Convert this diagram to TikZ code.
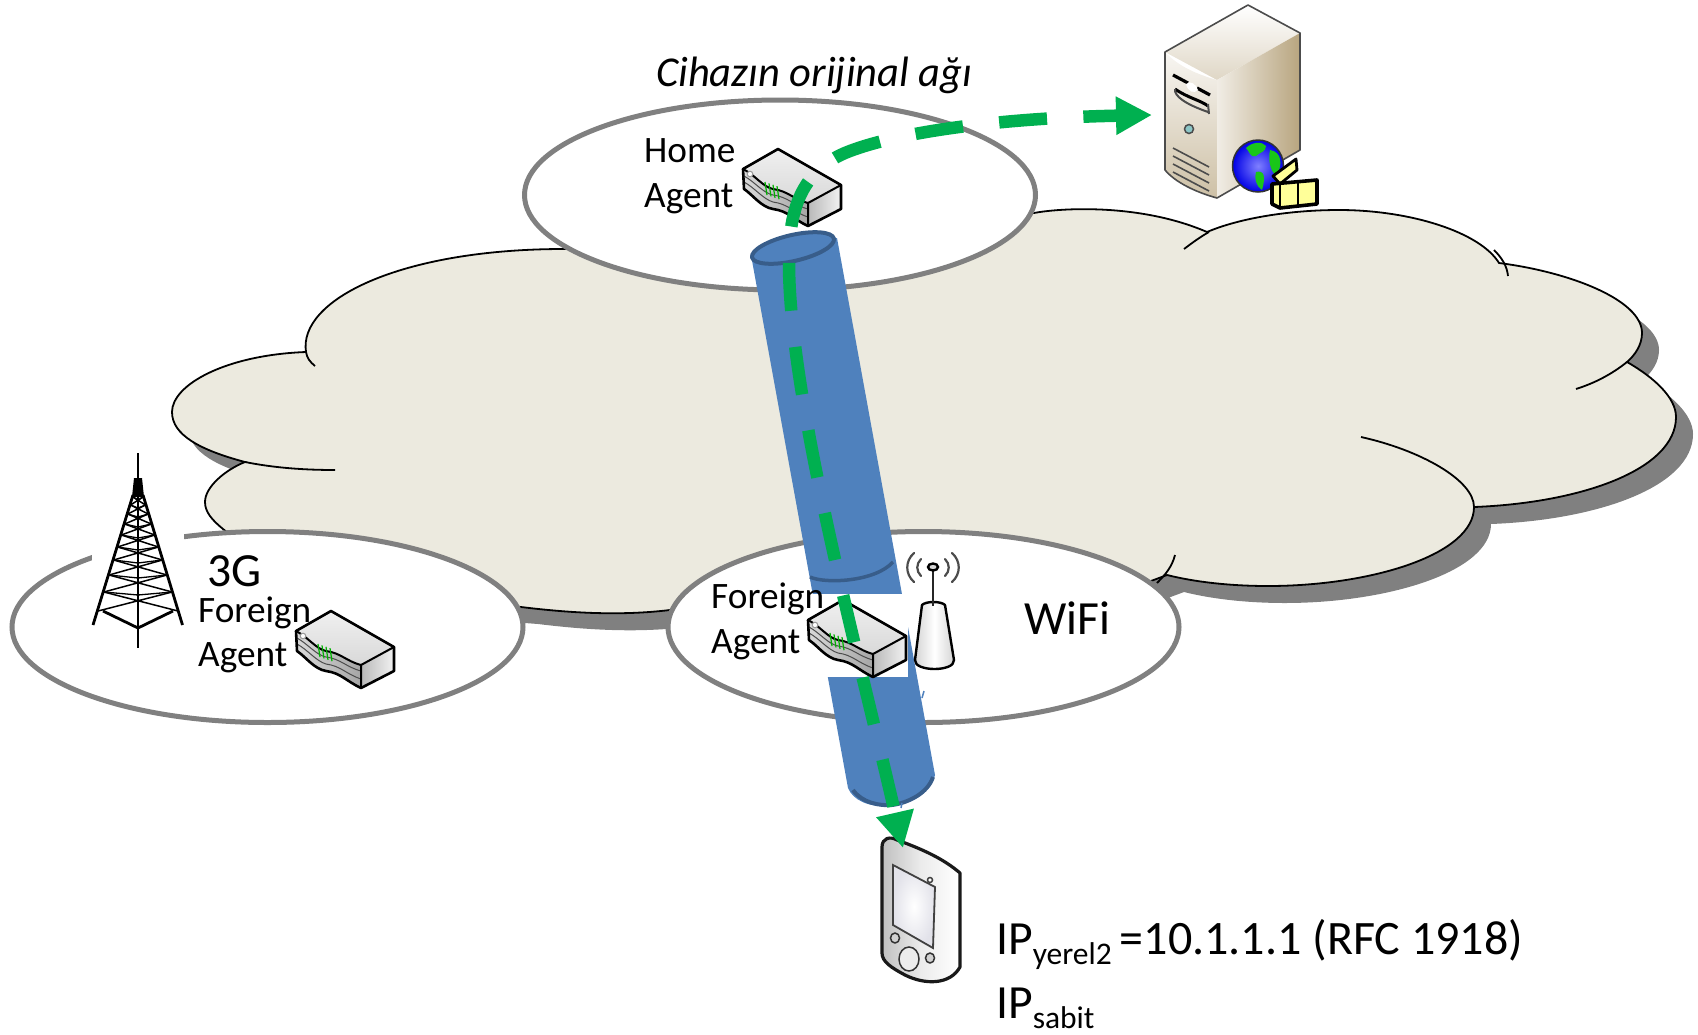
\documentclass[tikz,border=0pt]{standalone}
\usepackage{fontspec}
\setmainfont{Carlito}
\usetikzlibrary{arrows.meta,shapes.geometric,calc}
\definecolor{cloudfill}{HTML}{ECEADF}
\definecolor{zonegray}{HTML}{808080}
\definecolor{tubeblue}{HTML}{4F81BD}
\definecolor{tubedark}{HTML}{385D8A}
\definecolor{flowgreen}{HTML}{00B050}
\definecolor{servtan}{HTML}{B8A57F}
\definecolor{boxyellow}{HTML}{FFFF99}
\tikzset{
 zone/.style={ellipse,draw=zonegray,fill=white,line width=5pt,inner sep=0pt,outer sep=0pt},
 label36/.style={anchor=base west,inner sep=0pt,font=\fontsize{37.3}{37}\selectfont},
 label46/.style={anchor=base west,inner sep=0pt,font=\fontsize{47.6}{47}\selectfont},
 cloudline/.style={draw=black,line width=1.8pt},
 flow/.style={draw=flowgreen,line width=12.5pt,dash pattern=on 48pt off 36.4pt,dash phase=75.4pt,
   {Triangle[length=36pt,width=36pt]}-{Triangle[length=36pt,width=36pt]}},
 routerpic/.pic={
  \shade[top color=gray!12,bottom color=gray!30] (0,20)--(35,0)--(98,36)--(65,54)..controls(50,50)and(45,42)..(30,40)..controls(20,38)and(12,26)..(0,20)--cycle;
  \shade[left color=gray!30,right color=gray!70] (0,20)..controls(12,26)and(20,38)..(30,40)..controls(45,42)and(50,50)..(65,54)--(65,77)..controls(50,70)and(45,62)..(30,60)..controls(18,58)and(10,46)..(1,40)--cycle;
  \shade[left color=gray!55,right color=gray!10] (65,54)--(98,36)--(98,60)--(65,77)--cycle;
  \draw[black!70,line width=1pt] (1,27)..controls(12,33)and(20,44)..(30,46)..controls(45,48)and(50,56)..(65,60);
  \draw[black!70,line width=1pt] (1,33)..controls(12,39)and(20,50)..(30,53)..controls(45,55)and(50,63)..(65,68);
  \draw[black,line width=2.6pt,line join=round] (0,20)--(35,0)--(98,36)--(98,60)--(65,77)..controls(50,70)and(45,62)..(30,60)..controls(18,58)and(10,46)..(1,40)--cycle;
  \draw[black,line width=2pt,line join=round] (0,20)..controls(12,26)and(20,38)..(30,40)..controls(45,42)and(50,50)..(65,54)--(98,36) (65,54)--(65,77);
  \draw[gray!80,fill=white,line width=1pt] (7,25) circle (2.8);
  \foreach \k in {0,4,8,12}{\draw[green!70!black,line width=1.2pt] ({22+\k},{33+0.35*\k})--({24+\k},{46+0.35*\k});}
 },
 antennawave/.style={draw=black!70,line width=2.2pt,line cap=round},
}
\begin{document}
\begin{tikzpicture}[x=1pt,y=-1pt]
\useasboundingbox (0,0) rectangle (1698,1034);
\def\cloudoutline{(245,462) .. controls (200,450) and (172,435) .. (172,412)
 .. controls (172,385) and (225,355) .. (306,352)
 .. controls (298,300) and (400,249) .. (564,249)
 -- (1034,213)
 .. controls (1060,208) and (1140,203) .. (1207,232)
 .. controls (1240,218) and (1290,210) .. (1339,210)
 .. controls (1410,210) and (1480,232) .. (1499,263)
 .. controls (1570,272) and (1642,300) .. (1642,333)
 .. controls (1642,345) and (1635,355) .. (1627,362)
 .. controls (1655,378) and (1676,398) .. (1676,417)
 .. controls (1676,470) and (1580,503) .. (1474,507)
 .. controls (1474,555) and (1370,586) .. (1268,586)
 .. controls (1230,586) and (1195,582) .. (1167,575)
 -- (1100,600) -- (670,610)
 .. controls (620,616) and (570,613) .. (521,607)
 -- (300,590) -- (223,529)
 .. controls (212,520) and (205,512) .. (205,502)
 .. controls (205,487) and (225,470) .. (245,462) -- cycle}
% cloud
\fill[zonegray,shift={(17,17)}] \cloudoutline;
\path[fill=cloudfill,cloudline] \cloudoutline;
\draw[cloudline] (1184,249)..controls(1192,243)and(1200,237)..(1209,232);
\draw[cloudline] (1494,250)..controls(1502,258)and(1507,266)..(1508,276);
\draw[cloudline] (1627,362)..controls(1612,374)and(1595,383)..(1576,389);
\draw[cloudline] (1361,437)..controls(1420,450)and(1474,480)..(1474,507);
\draw[cloudline] (1175,555)..controls(1172,567)and(1165,575)..(1157,583);
\draw[cloudline] (306,352)..controls(307,358)and(310,362)..(315,366);
\draw[cloudline] (245,462)..controls(275,468)and(305,470)..(335,470);
% zones
\node[zone,minimum width=511pt,minimum height=190pt] (homezone) at (780,195) {};
\node[zone,minimum width=511pt,minimum height=191pt] (zone3g) at (267.5,627) {};
\node[zone,minimum width=511pt,minimum height=191pt] (wifizone) at (923.5,627) {};
% tube
\fill[tubeblue] (751,255)--(837,238)--(935,775)..controls(930,795)and(905,805)..(887,806)..controls(868,807)and(853,800)..(848,788)--cycle;
\draw[tubedark,line width=4pt] (853,790)..controls(862,803)and(880,806)..(892,805)..controls(908,803)and(928,793)..(933,777);
\draw[tubedark,line width=3.5pt] (810,577)..controls(825,584)and(875,582)..(893,562);
\draw[tubedark,line width=4pt,fill=tubeblue,rotate around={13:(793,248)}] (793,248) ellipse (42 and 13);
\fill[white] (807,594) rectangle (908,677);
\draw[tubeblue,line width=1.5pt] (924,691)--(922,698) (902,803)--(901,808);
% tower
\fill[white] (92,446) rectangle (184,650);
\begin{scope}[draw=black,line join=round]
 \draw[line width=2.6pt] (138,453)--(138,648);
 \fill (134,478)--(142,478)--(144,497)--(132,497)--cycle;
 \draw[line width=2.8pt] (133,495)--(93,625) (143,495)--(182.5,625);
 \draw[line width=2.8pt] (103,611)--(138,628)--(173,611);
 \foreach \ya/\yb in {497/505, 505/514, 514/524, 524/535, 535/547, 547/560, 560/575, 575/592, 592/611}{
  \pgfmathsetmacro\wa{(\ya-497)*0.307+5}
  \pgfmathsetmacro\wb{(\yb-497)*0.307+5}
  \draw[line width=1.5pt] ({138-\wa},\ya)--({138+\wb},\yb) ({138+\wa},\ya)--({138-\wb},\yb);
  \draw[line width=1.3pt] ({138-\wa},\ya)--(138,{\ya+3})--({138+\wa},\ya);
 }
\end{scope}
% routers
\pic at (743,149) {routerpic};
\pic at (808,600) {routerpic};
\pic at (296,611) {routerpic};
% antenna
\shade[left color=gray!35,right color=gray!35,middle color=white] (922,605)..controls(926,601)and(941,601)..(945,605)--(954,660)..controls(955,672)and(914,672)..(915,660)--cycle;
\draw[black,line width=2.4pt,line join=round] (922,605)..controls(926,601)and(941,601)..(945,605)--(954,660)..controls(955,672)and(914,672)..(915,660)--cycle;
\draw[black!85,line width=2.8pt] (933,570)--(933,606);
\draw[black,fill=gray!30,line width=2.4pt] (933,567) ellipse (5 and 3.5);
\draw[antennawave] (921,559)..controls(916,564)and(916,571)..(921,576);
\draw[antennawave] (914,553)..controls(905,561)and(905,574)..(914,582);
\draw[antennawave] (945,559)..controls(950,564)and(950,571)..(945,576);
\draw[antennawave] (952,553)..controls(961,561)and(961,574)..(952,582);
% server
\shade[top color=white,bottom color=servtan!45] (1165,52)--(1248,5)--(1300,33)--(1217,80)--cycle;
\shade[top color=servtan!10,bottom color=servtan!70] (1165,52)..controls(1180,68)and(1200,75)..(1217,80)--(1217,198)..controls(1195,192)and(1175,182)..(1165,170)--cycle;
\shade[left color=servtan!20,right color=servtan] (1217,80)--(1300,33)--(1300,150)--(1217,198)--cycle;
\draw[black!70,line width=1.6pt,line join=round] (1165,52)--(1248,5)--(1300,33)--(1300,150)--(1217,198)..controls(1195,192)and(1175,182)..(1165,170)--cycle;
\draw[black,line width=3.2pt] (1173,75)--(1188,83) (1197,88)--(1210,95);
\fill[white] (1186,84)..controls(1190,80)and(1196,84)..(1198,90)..controls(1194,94)and(1188,92)..(1186,84)--cycle;
\draw[black,line width=3pt] (1175,89)..controls(1188,98)and(1200,100)..(1208,106);
\draw[black!70,line width=2pt] (1175,89)..controls(1174,96)and(1185,104)..(1208,112) (1208,104)--(1209,114);
\draw[black!70,fill=teal!45,line width=1.5pt] (1189,129) circle (4.5);
\foreach \d in {0,8,16,24}{\draw[black!70,line width=1.6pt] (1173,{148+\d})--(1209,{167+\d});}
% globe and box
\shade[inner color=blue!50!white,outer color=blue!90!black,draw=black!80,line width=1.5pt] (1258,166) ellipse (25.5 and 26);
\fill[green!75!black!90] (1246,148)..controls(1252,142)and(1262,141)..(1266,146)..controls(1266,152)and(1260,152)..(1256,156)..controls(1250,158)and(1250,152)..(1246,148)--cycle;
\fill[green!75!black!90] (1256,172)..controls(1264,170)and(1266,176)..(1262,190)..controls(1256,186)and(1254,178)..(1256,172)--cycle;
\fill[green!75!black!90] (1270,150)..controls(1282,152)and(1283,165)..(1276,176)..controls(1270,170)and(1268,160)..(1270,150)--cycle;
\draw[black,fill=boxyellow,line width=2.8pt,line join=round] (1273,176)--(1296,159)--(1297,170)--(1280,184)--cycle;
\draw[black,fill=boxyellow,line width=3.6pt,line join=round] (1272,184)--(1317,180)--(1317,204)--(1280,208)--(1272,204)--cycle;
\draw[black,line width=2.8pt] (1298,182)--(1298,206) (1280,184)--(1280,208);
% PDA
\shade[left color=gray!50,right color=white,middle color=gray!15] (882,847)..controls(882,838)and(890,836)..(897,840)..controls(925,850)and(945,860)..(960,873)--(960,967)..controls(950,985)and(925,985)..(905,975)..controls(892,968)and(882,962)..(882,953)--cycle;
\draw[black!90,line width=3.2pt,line join=round] (882,847)..controls(882,838)and(890,836)..(897,840)..controls(925,850)and(945,860)..(960,873)--(960,967)..controls(950,985)and(925,985)..(905,975)..controls(892,968)and(882,962)..(882,953)--cycle;
\shade[inner color=white,outer color=blue!15!gray!20,draw=black!75,line width=1.8pt] (893,865)--(935,887)--(933,948)--(893,925)--cycle;
\draw[black!75,fill=white,line width=1.5pt] (930,880) circle (2.5);
\draw[black!80,fill=gray!15,line width=1.5pt] (909,959) ellipse (10 and 12);
\draw[black!80,fill=gray!35,line width=1.5pt] (895,938) ellipse (4.5 and 5);
\draw[black!80,fill=gray!35,line width=1.5pt] (930,958) ellipse (4.5 and 5);
% connector
\coordinate (mobile) at (903,848);
\coordinate (hapoint) at (789,263);
\coordinate (midpoint) at (850,151);
\coordinate (serverpoint) at (1152,115);
\draw[flow] (mobile) .. controls (860,660) and (789,400) .. (hapoint)
  .. controls (789,225) and (793,172) .. (midpoint)
  .. controls (900,132) and (1000,118) .. (serverpoint);
% labels
\node[anchor=base west,inner sep=0pt,font=\fontsize{42.5}{42}\selectfont\itshape] (orig) at (656,86) {Cihazın orijinal ağı};
\node[label36] (hometxt) at (644,162) {Home};
\node[label36] (agenttxt) at (644,207) {Agent};
\node[label46] (g3) at (207,586) {3G};
\node[label36] (fa1) at (198,622) {Foreign};
\node[label36] (fa2) at (198,666) {Agent};
\node[label36] (fb1) at (711,608) {Foreign};
\node[label36] (fb2) at (711,653) {Agent};
\node[label46] (wifi) at (1024,634) {WiFi};
\node[label46] (ip1) at (996,954) {IP\raisebox{-10pt}{\fontsize{31.5}{31}\selectfont yerel2}\hspace{8pt}{\fontsize{48}{48}\selectfont =10.1.1.1 (RFC 1918)}};
\node[label46] (ip2) at (996,1018) {IP\raisebox{-10pt}{\fontsize{31.5}{31}\selectfont sabit}};
\end{tikzpicture}
\end{document}
